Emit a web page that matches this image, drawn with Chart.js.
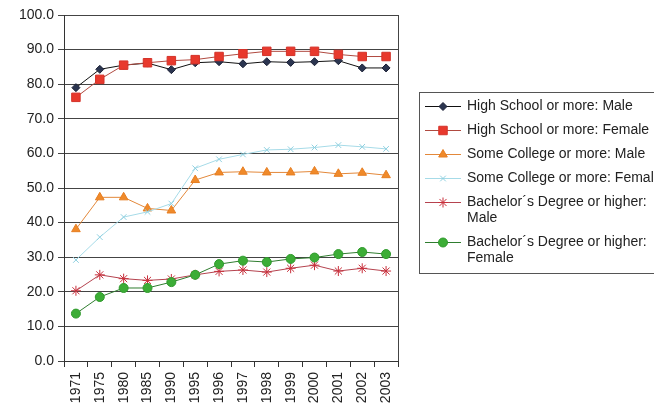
<!DOCTYPE html>
<html lang="en">
<head>
  <meta charset="UTF-8" />
  <title>Educational attainment by sex</title>
  <script src="https://cdn.jsdelivr.net/npm/chart.js"></script>
  <style>
    html, body { margin: 0; padding: 0; background: #fff; }
    .chart-box { position: relative; width: 654px; height: 407px; }
  </style>
</head>
<body>
<div class="chart-box">
  <canvas id="eduChart"></canvas>
</div>

<script>
  const years = ['1971', '1975', '1980', '1985', '1990', '1995', '1996', '1997', '1998', '1999', '2000', '2001', '2002', '2003'];

  const hsMale      = [79.0, 84.3, 85.5, 86.1, 84.2, 86.2, 86.5, 85.9, 86.5, 86.3, 86.5, 86.8, 84.7, 84.7];
  const hsFemale    = [76.2, 81.4, 85.5, 86.2, 86.8, 87.1, 88.0, 88.8, 89.5, 89.5, 89.5, 88.6, 88.0, 88.0];
  const scMale      = [38.1, 47.3, 47.3, 44.1, 43.5, 52.3, 54.5, 54.7, 54.5, 54.5, 54.8, 54.1, 54.4, 53.7];
  const scFemale    = [29.2, 35.8, 41.6, 43.1, 45.5, 55.7, 58.3, 59.7, 61.0, 61.2, 61.7, 62.4, 61.9, 61.3];
  const baMale      = [20.3, 24.9, 23.8, 23.3, 23.7, 24.9, 25.9, 26.3, 25.7, 26.8, 27.7, 26.0, 26.8, 26.0];
  const baFemale    = [13.7, 18.5, 21.1, 21.1, 22.8, 24.9, 28.0, 29.0, 28.6, 29.5, 29.9, 30.9, 31.5, 30.9];

  const seriesNames = [
    'High School or more: Male',
    'High School or more: Female',
    'Some College or more: Male',
    'Some College or more: Female',
    'Bachelor´s Degree or higher: Male',
    'Bachelor´s Degree or higher: Female'
  ];
  // how the legend box breaks the long names
  const legendLines = [
    ['High School or more: Male'],
    ['High School or more: Female'],
    ['Some College or more: Male'],
    ['Some College or more: Female'],
    ['Bachelor´s Degree or higher:', 'Male'],
    ['Bachelor´s Degree or higher:', 'Female']
  ];

  const yTicks = [0, 10, 20, 30, 40, 50, 60, 70, 80, 90, 100];

  const FONT = "'Liberation Sans', Arial, sans-serif";

  function series(label, data, line, fill, edge, style, r) {
    return {
      label: label,
      data: data,
      borderColor: line,
      borderWidth: 1,
      backgroundColor: fill,
      pointBackgroundColor: fill,
      pointBorderColor: edge,
      pointBorderWidth: 1,
      pointStyle: style,
      pointRadius: r,
      pointHoverRadius: r,
      tension: 0
    };
  }

  const datasets = [
    series(seriesNames[5], baFemale, '#2f7d2f', '#3cad36', '#2f9a2c', 'circle', 4.5),
    series(seriesNames[4], baMale, '#b5434f', '#d23a44', '#c8303c', 'star', 5),
    series(seriesNames[3], scFemale, '#a6dbe8', '#a6dbe8', '#8fd0e0', 'crossRot', 4),
    series(seriesNames[2], scMale, '#e3883a', '#f08a2a', '#e67e22', 'triangle', 5),
    series(seriesNames[1], hsFemale, '#b04a40', '#e8392d', '#d4332a', 'rect', 6),
    series(seriesNames[0], hsMale, '#111111', '#2b3550', '#1b2035', 'rectRot', 4)
  ];

  // right edge of the plot frame
  const frame = {
    id: 'frame',
    afterDraw(chart) {
      const { ctx, chartArea: a } = chart;
      ctx.save();
      ctx.strokeStyle = '#444';
      ctx.lineWidth = 1;
      ctx.beginPath();
      ctx.moveTo(Math.round(a.right) + 0.5, a.top);
      ctx.lineTo(Math.round(a.right) + 0.5, a.bottom);
      ctx.stroke();
      ctx.restore();
    }
  };

  // boxed legend to the right, the way the original sheet draws it
  const boxLegend = {
    id: 'boxLegend',
    afterDraw(chart) {
      const ctx = chart.ctx;
      ctx.save();
      ctx.strokeStyle = '#555';
      ctx.lineWidth = 1;
      ctx.strokeRect(419.5, 92.5, 250, 181);
      ctx.font = '14px ' + FONT;
      ctx.textBaseline = 'middle';
      let y = 106;
      seriesNames.forEach((name, i) => {
        const ds = chart.data.datasets.find(d => d.label === name);
        ctx.strokeStyle = ds.borderColor;
        ctx.lineWidth = 1;
        ctx.beginPath();
        ctx.moveTo(425, y + 0.5);
        ctx.lineTo(461, y + 0.5);
        ctx.stroke();
        ctx.fillStyle = ds.pointBackgroundColor;
        ctx.strokeStyle = ds.pointBorderColor;
        Chart.helpers.drawPoint(ctx, {
          pointStyle: ds.pointStyle,
          radius: ds.pointRadius,
          borderWidth: 1,
          rotation: 0
        }, 443, y + 0.5);
        ctx.fillStyle = '#222';
        legendLines[i].forEach((t, k) => ctx.fillText(t, 467, y + k * 16));
        y += 24 + (legendLines[i].length - 1) * 16;
      });
      ctx.restore();
    }
  };

  new Chart(document.getElementById('eduChart'), {
    type: 'line',
    data: { labels: years, datasets: datasets },
    plugins: [frame, boxLegend],
    options: {
      responsive: true,
      maintainAspectRatio: false,
      animation: false,
      layout: { padding: { top: 15, right: 256, left: 0, bottom: 0 } },
      plugins: { legend: { display: false }, tooltip: { enabled: false } },
      scales: {
        x: {
          offset: true,
          grid: { offset: true, drawOnChartArea: false, color: '#333', tickLength: 6 },
          border: { color: '#333' },
          ticks: {
            color: '#222',
            font: { family: FONT, size: 14 },
            minRotation: 90,
            maxRotation: 90,
            padding: 5,
            autoSkip: false
          },
          afterFit(s) { s.height = 46; }
        },
        y: {
          min: yTicks[0],
          max: yTicks[yTicks.length - 1],
          afterBuildTicks(s) { s.ticks = yTicks.map(v => ({ value: v })); },
          grid: { color: '#444', tickLength: 6 },
          border: { color: '#333' },
          ticks: {
            color: '#222',
            font: { family: FONT, size: 14 },
            padding: 4,
            callback: v => v.toFixed(1)
          },
          afterFit(s) { s.width = 64; }
        }
      }
    }
  });
</script>
</body>
</html>
